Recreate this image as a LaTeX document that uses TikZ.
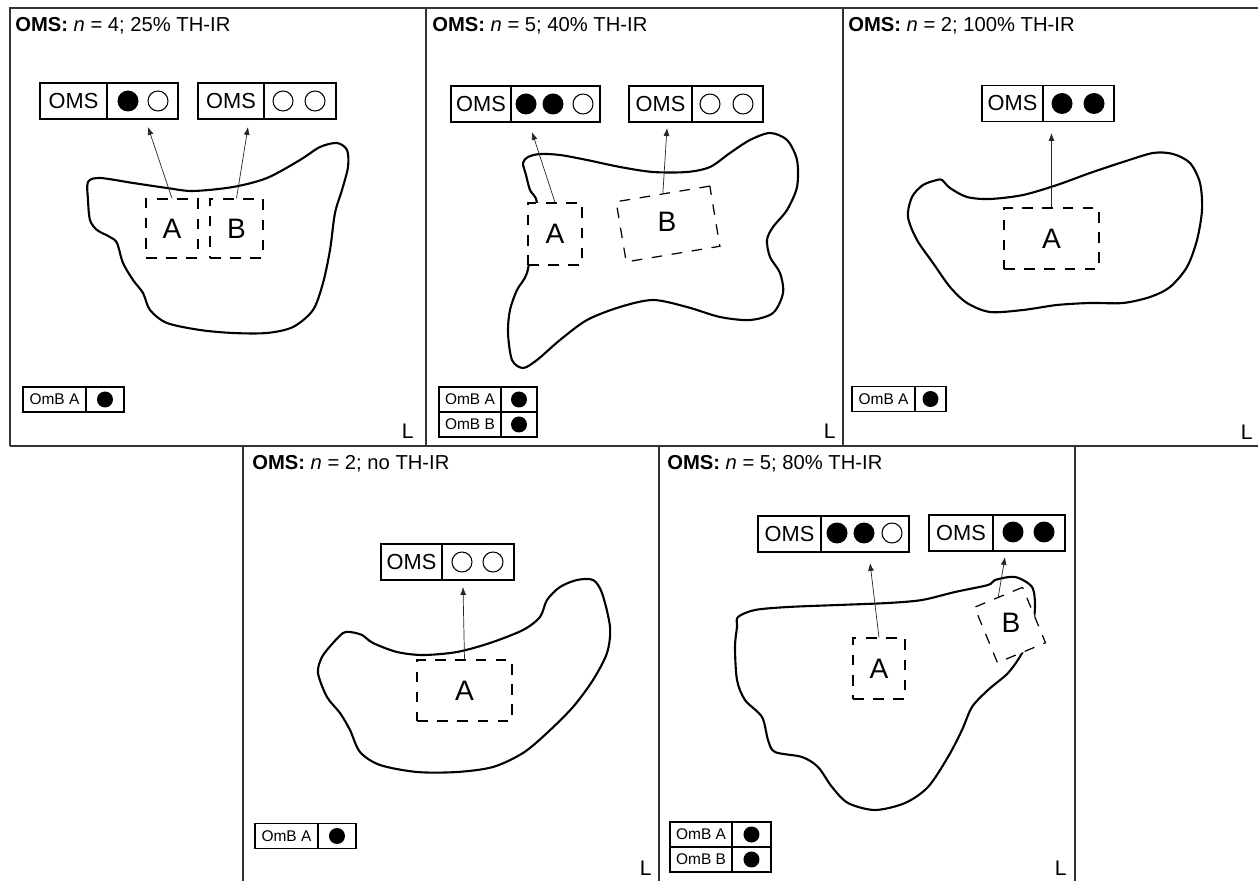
\documentclass[tikz,border=0pt]{standalone}
\usepackage{fontspec}
\setmainfont{Liberation Sans}
\usetikzlibrary{positioning}
\usetikzlibrary{arrows.meta}

\begin{document}
\begin{tikzpicture}
  [x=0.02cm, y=-0.02cm,
   frame/.style={draw=black!80, line width=0.9pt},
   blob/.style={line width=1.2pt, line join=round},
   title/.style={anchor=base west, inner sep=0pt, font=\fontsize{11.5}{13}\selectfont},
   corner/.style={anchor=base east, inner sep=0pt, font=\fontsize{12}{14}\selectfont},
   cell/.style={draw, line width=0.6pt, outer sep=0pt, inner sep=0pt, minimum height=0.72cm, font=\fontsize{12.4}{14}\selectfont},
   lcell/.style={draw, line width=0.6pt, outer sep=0pt, inner sep=0pt, minimum height=0.5cm, font=\fontsize{8.8}{10}\selectfont},
   fdot/.style={circle, fill, inner sep=0pt, minimum size=0.42cm},
   odot/.style={circle, draw, line width=0.6pt, inner sep=0pt, minimum size=0.40cm},
   ldot/.style={circle, fill, inner sep=0pt, minimum size=0.32cm},
   area/.style={draw, fill=white, line width=0.7pt, dash pattern=on 6pt off 5.5pt, inner sep=0pt, font=\fontsize{16}{18}\selectfont},
   letter/.style={inner sep=0pt, font=\fontsize{16}{18}\selectfont},
   arr/.style={-{Latex[length=4.5pt,width=3.4pt]}, line width=0.4pt, draw=black!85}]

  \useasboundingbox (0,0) rectangle (1258,881);

  % frames
  \draw[frame] (10,446) -- (10,8) -- (1258,8);
  \draw[frame] (10,446) -- (1258,446);
  \draw[frame] (426,8) -- (426,446);
  \draw[frame] (843,8) -- (843,446);
  \draw[frame] (243,446) -- (243,881);
  \draw[frame] (659,446) -- (659,881);
  \draw[frame] (1075,446) -- (1075,881);

  % panel 1
  \node[title] (t1) at (15,32) {\textbf{OMS:} \textit{n} = 4; 25\% TH-IR};
  \draw[blob] plot[smooth cycle] coordinates {(88,182) (100,178) (133,183) (167,188) (193,191) (233,187)
    (267,178) (300,160) (320,147) (337,143) (347,150) (348,167) (342,190) (335,213) (330,250) (323,283)
    (313,310) (293,327) (267,333) (233,333) (200,330) (167,323) (150,310) (143,293) (133,280) (123,263)
    (117,243) (110,237) (97,230) (90,220) (88,200)};
  \node[cell, minimum width=1.34cm] (c1a) at (73.5,101) {OMS};
  \node[cell, minimum width=1.42cm, right=0pt of c1a] (c1ad) {};
  \node[fdot] (d1a1) at (128,101) {};
  \node[odot] (d1a2) at (158,101) {};
  \node[cell, minimum width=1.32cm] (c1b) at (231,101) {OMS};
  \node[cell, minimum width=1.44cm, right=0pt of c1b] (c1bd) {};
  \node[odot] (d1b1) at (283,101) {};
  \node[odot] (d1b2) at (315,101) {};
  \node[area, minimum width=1.04cm, minimum height=1.18cm] (a1) at (172,228.5) {A};
  \node[area, minimum width=1.06cm, minimum height=1.18cm] (b1) at (236.5,228.5) {B};
  \coordinate (p1a) at (148,127);
  \coordinate (p1b) at (248,127);
  \draw[arr] (a1.north) -- (p1a);
  \draw[arr] (b1.north) -- (p1b);
  \node[lcell, minimum width=1.26cm] (l1a) at (54.5,399.5) {OmB A};
  \node[lcell, minimum width=0.76cm, right=0pt of l1a] (l1ad) {};
  \node[ldot] (g1a) at (l1ad) {};
  \node[corner] (s1) at (414,439) {L};

  % panel 2
  \node[title] (t2) at (432,32) {\textbf{OMS:} \textit{n} = 5; 40\% TH-IR};
  \draw[blob] plot[smooth cycle] coordinates {(537,203) (530,190) (526,175) (523,163) (528,157) (540,154)
    (560,155) (587,160) (620,167) (653,172) (687,172) (710,167) (730,153) (750,140) (770,133) (787,140)
    (797,160) (797,187) (787,210) (773,227) (767,240) (770,257) (780,273) (783,293) (773,313) (750,320)
    (720,317) (687,307) (653,300) (620,307) (587,320) (560,340) (537,360) (523,368) (512,360) (508,333)
    (510,310) (517,290) (527,273) (532,240)};
  \node[cell, minimum width=1.2cm] (c2a) at (481,104) {OMS};
  \node[cell, minimum width=1.78cm, right=0pt of c2a] (c2ad) {};
  \node[fdot] (d2a1) at (526,104) {};
  \node[fdot] (d2a2) at (553,104) {};
  \node[odot] (d2a3) at (583,104) {};
  \node[cell, minimum width=1.26cm] (c2b) at (660.5,104) {OMS};
  \node[cell, minimum width=1.42cm, right=0pt of c2b] (c2bd) {};
  \node[odot] (d2b1) at (710,104) {};
  \node[odot] (d2b2) at (743,104) {};
  \node[area, minimum width=1.08cm, minimum height=1.24cm] (a2) at (555,234) {A};
  \node[area, minimum width=1.9cm, minimum height=1.22cm, rotate=9.5] (b2) at (668,224) {};
  \node[letter] (n2) at (667,222) {B};
  \coordinate (p2a) at (532,132);
  \coordinate (p2b) at (667,128);
  \draw[arr] (a2.north) -- (p2a);
  \draw[arr] (b2.north) -- (p2b);
  \node[lcell, minimum width=1.24cm] (l2a) at (470,399.5) {OmB A};
  \node[lcell, minimum width=0.72cm, right=0pt of l2a] (l2ad) {};
  \node[lcell, minimum width=1.24cm, below=0pt of l2a] (l2b) {OmB B};
  \node[lcell, minimum width=0.72cm, right=0pt of l2b] (l2bd) {};
  \node[ldot] (g2a) at (l2ad) {};
  \node[ldot] (g2b) at (l2bd) {};
  \node[corner] (s2) at (836,439) {L};

  % panel 3
  \node[title] (t3) at (848,32) {\textbf{OMS:} \textit{n} = 2; 100\% TH-IR};
  \draw[blob] plot[smooth cycle] coordinates {(942,180) (950,188) (967,197) (990,199) (1023,195) (1057,185)
    (1090,173) (1123,162) (1153,153) (1173,154) (1190,163) (1200,183) (1202,210) (1197,240) (1187,267)
    (1170,287) (1150,297) (1123,303) (1090,303) (1057,305) (1023,310) (990,312) (967,303) (950,287)
    (933,263) (917,240) (908,217) (912,197) (923,185) (937,180)};
  \node[cell, minimum width=1.22cm] (c3a) at (1012.5,103.5) {OMS};
  \node[cell, minimum width=1.42cm, right=0pt of c3a] (c3ad) {};
  \node[fdot] (d3a1) at (1062,103.5) {};
  \node[fdot] (d3a2) at (1094,103.5) {};
  \node[area, minimum width=1.9cm, minimum height=1.22cm] (a3) at (1051.5,238.5) {A};
  \coordinate (p3a) at (1051.5,133);
  \draw[arr] (a3.north) -- (p3a);
  \node[lcell, minimum width=1.26cm] (l3a) at (883.5,399) {OmB A};
  \node[lcell, minimum width=0.62cm, right=0pt of l3a] (l3ad) {};
  \node[ldot] (g3a) at (l3ad) {};
  \node[corner] (s3) at (1253,440) {L};

  % panel 4
  \node[title] (t4) at (252,470) {\textbf{OMS:} \textit{n} = 2; no TH-IR};
  \draw[blob] plot[smooth cycle] coordinates {(350,632) (362,635) (373,643) (397,652) (423,655) (457,652)
    (490,643) (523,630) (540,617) (547,600) (560,587) (577,580) (593,580) (602,593) (610,627) (607,653)
    (593,680) (573,707) (547,733) (523,753) (493,767) (457,772) (417,772) (380,765) (360,752) (350,730)
    (340,713) (327,697) (318,673) (322,657) (333,643) (343,633)};
  \node[cell, minimum width=1.22cm] (c4a) at (411.5,562) {OMS};
  \node[cell, minimum width=1.44cm, right=0pt of c4a] (c4ad) {};
  \node[odot] (d4a1) at (462,562) {};
  \node[odot] (d4a2) at (493,562) {};
  \node[area, minimum width=1.9cm, minimum height=1.22cm] (a4) at (464.5,690.5) {A};
  \coordinate (p4a) at (463,587);
  \draw[arr] (a4.north) -- (p4a);
  \node[lcell, minimum width=1.26cm] (l4a) at (286.5,836) {OmB A};
  \node[lcell, minimum width=0.76cm, right=0pt of l4a] (l4ad) {};
  \node[ldot] (g4a) at (l4ad) {};
  \node[corner] (s4) at (652,875) {L};

  % panel 5
  \node[title] (t5) at (667,470) {\textbf{OMS:} \textit{n} = 5; 80\% TH-IR};
  \draw[blob] plot[smooth cycle] coordinates {(738,617) (755,610) (788,607) (838,605) (888,603) (922,600)
    (955,592) (988,585) (995,580) (1015,577) (1032,587) (1035,607) (1032,627) (1022,653) (1008,673)
    (988,690) (972,707) (962,730) (948,757) (928,787) (905,803) (875,810) (848,803) (832,787) (818,767)
    (802,757) (775,752) (768,740) (762,717) (745,700) (737,680) (735,647) (737,627)};
  \node[cell, minimum width=1.26cm] (c5a) at (789.5,534) {OMS};
  \node[cell, minimum width=1.76cm, right=0pt of c5a] (c5ad) {};
  \node[fdot] (d5a1) at (837,533) {};
  \node[fdot] (d5a2) at (864,533) {};
  \node[odot] (d5a3) at (892,533) {};
  \node[cell, minimum width=1.28cm] (c5b) at (961,533) {OMS};
  \node[cell, minimum width=1.44cm, right=0pt of c5b] (c5bd) {};
  \node[fdot] (d5b1) at (1013,532) {};
  \node[fdot] (d5b2) at (1044,532) {};
  \node[area, minimum width=1.04cm, minimum height=1.22cm] (a5) at (879,668.5) {A};
  \node[area, minimum width=1.04cm, minimum height=1.2cm, rotate=22.5] (b5) at (1010,625) {};
  \node[letter] (n5) at (1011,623) {B};
  \coordinate (p5a) at (870,563);
  \coordinate (p5b) at (1005,557);
  \draw[arr] (a5.north) -- (p5a);
  \draw[arr] (b5.north) -- (p5b);
  \node[lcell, minimum width=1.24cm] (l5a) at (701,834.5) {OmB A};
  \node[lcell, minimum width=0.78cm, right=0pt of l5a] (l5ad) {};
  \node[lcell, minimum width=1.24cm, below=0pt of l5a] (l5b) {OmB B};
  \node[lcell, minimum width=0.78cm, right=0pt of l5b] (l5bd) {};
  \node[ldot] (g5a) at (l5ad) {};
  \node[ldot] (g5b) at (l5bd) {};
  \node[corner] (s5) at (1067,875) {L};

\end{tikzpicture}
\end{document}
